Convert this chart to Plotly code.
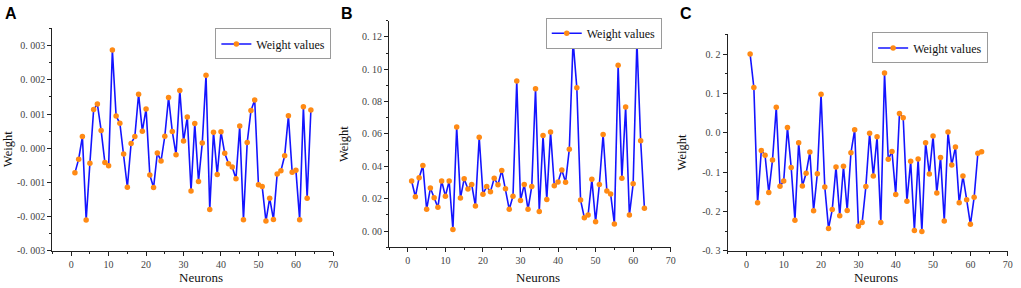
import plotly.graph_objects as go

# ---------------- data ----------------
neurons_a = list(range(1, 65))
weights_a = [-0.00072, -0.00032, 0.00034, -0.0021, -0.00044, 0.00113, 0.00129, 0.00052,
             -0.00042, -0.00051, 0.00287, 0.00094, 0.00073, -0.00017, -0.00114, 0.00014,
             0.00034, 0.00158, 0.0005, 0.00115, -0.00078, -0.00115, -0.00014, -0.00037,
             0.00035, 0.00148, 0.00049, -0.00019, 0.00169, 0.00021, 0.00091, -0.00125,
             0.00072, -0.00097, 0.00015, 0.00213, -0.00179, 0.00047, -0.00077, 0.00048,
             -0.00015, -0.00045, -0.00055, -0.00089, 0.00065, -0.00209, 0.00017, 0.0011,
             0.00141, -0.00107, -0.00112, -0.00213, -0.00146, -0.00208, -0.00075, -0.00066,
             -0.00022, 0.00095, -0.0007, -0.00064, -0.00209, 0.00121, -0.00146, 0.00112]

neurons_b = list(range(1, 64))
weights_b = [0.031, 0.0212, 0.033, 0.0405, 0.0135, 0.0266, 0.0206, 0.0147, 0.031, 0.0216,
             0.031, 0.001, 0.0643, 0.0204, 0.0323, 0.026, 0.0288, 0.0155, 0.058, 0.0228,
             0.0276, 0.0244, 0.0327, 0.0286, 0.0375, 0.0262, 0.0135, 0.0216, 0.0927, 0.019,
             0.0288, 0.0135, 0.0276, 0.0879, 0.0121, 0.059, 0.0196, 0.0613, 0.028, 0.0304,
             0.0377, 0.0302, 0.0506, 0.1175, 0.0885, 0.0192, 0.0083, 0.0099, 0.032, 0.0058,
             0.0288, 0.0597, 0.0248, 0.023, 0.0044, 0.1024, 0.0327, 0.0766, 0.0099, 0.0292,
             0.1171, 0.0558, 0.0141]

neurons_c = list(range(1, 64))
weights_c = [0.2, 0.115, -0.178, -0.045, -0.057, -0.152, -0.069, 0.065, -0.136, -0.1225,
             0.0133, -0.088, -0.2225, -0.025, -0.135, -0.103, -0.049, -0.198, -0.104, 0.098,
             -0.1375, -0.243, -0.195, -0.0867, -0.211, -0.085, -0.1975, -0.051, 0.0075, -0.2375,
             -0.228, -0.1367, -0.001, -0.11, -0.01, -0.228, 0.152, -0.0675, -0.0475, -0.157,
             0.049, 0.038, -0.174, -0.0725, -0.248, -0.0667, -0.251, -0.025, -0.105, -0.0083,
             -0.153, -0.063, -0.224, 0.0017, -0.082, -0.036, -0.178, -0.11, -0.17, -0.2325,
             -0.164, -0.052, -0.048]

x_ticks = [0, 10, 20, 30, 40, 50, 60, 70]
a_yticks = [-0.003, -0.002, -0.001, 0.0, 0.001, 0.002, 0.003]
a_yticktext = ["-0. 003", "-0. 002", "-0. 001", "0. 000", "0. 001", "0. 002", "0. 003"]
b_yticks = [0.0, 0.02, 0.04, 0.06, 0.08, 0.10, 0.12]
b_yticktext = ["0. 00", "0. 02", "0. 04", "0. 06", "0. 08", "0. 10", "0. 12"]
c_yticks = [-0.3, -0.2, -0.1, 0.0, 0.1, 0.2]
c_yticktext = ["-0. 3", "-0. 2", "-0. 1", "0. 0", "0. 1", "0. 2"]

series_name = "Weight values"
panel_labels = ["A", "B", "C"]

# ---------------- style ----------------
W, H = 1021, 288
LINE = "#1414FF"
MARK = "#FF8A14"
AX = "#222222"
SERIF = "Liberation Serif, Times New Roman, serif"


def px(x):
    return x / W


def py(y):
    return 1 - y / H


panels = [
    # x-left, x-right, y-top, y-bottom (pixels)
    dict(xs=(52.7, 335.0), ys=(29, 255.3), yr=[-0.003, 0.0035], yt=a_yticks, ytt=a_yticktext,
         ydt=0.0005, leg=(333, 29)),
    dict(xs=(391.0, 674.0), ys=(21, 251.7), yr=[-0.01, 0.13], yt=b_yticks, ytt=b_yticktext,
         ydt=0.01, leg=(665, 18)),
    dict(xs=(731.3, 1012.7), ys=(35, 255.3), yr=[-0.3, 0.25], yt=c_yticks, ytt=c_yticktext,
         ydt=0.05, leg=(993, 33)),
]
datasets = [(neurons_a, weights_a), (neurons_b, weights_b), (neurons_c, weights_c)]

fig = go.Figure()
annotations = []
layout = dict(
    width=W, height=H,
    margin=dict(l=0, r=0, t=0, b=0),
    paper_bgcolor="white", plot_bgcolor="white",
    showlegend=True,
)

for i, (p, (xs, ys)) in enumerate(zip(panels, datasets)):
    n = "" if i == 0 else str(i + 1)
    legname = "legend" if i == 0 else "legend" + str(i + 1)
    fig.add_trace(go.Scatter(
        x=xs, y=ys, mode="lines+markers", name=series_name,
        line=dict(color=LINE, width=1.6),
        marker=dict(color=MARK, size=5.5, line=dict(width=0)),
        xaxis="x" + n, yaxis="y" + n, legend=legname,
    ))
    layout["xaxis" + n] = dict(
        domain=[px(p["xs"][0]), px(p["xs"][1])], anchor="y" + n,
        range=[-5, 70], tickvals=x_ticks, showgrid=False, zeroline=False,
        showline=True, linecolor=AX, linewidth=1.2,
        ticks="outside", ticklen=4, tickcolor=AX, tickwidth=1,
        minor=dict(dtick=5, tick0=0, ticks="outside", ticklen=2, tickcolor=AX),
        tickfont=dict(family=SERIF, size=10, color="#444"),
    )
    layout["yaxis" + n] = dict(
        domain=[py(p["ys"][1]), py(p["ys"][0])], anchor="x" + n,
        range=p["yr"], tickvals=p["yt"], ticktext=p["ytt"],
        showgrid=False, zeroline=False,
        showline=True, linecolor=AX, linewidth=1.2,
        ticks="outside", ticklen=4, tickcolor=AX, tickwidth=1,
        minor=dict(dtick=p["ydt"], tick0=0, ticks="outside", ticklen=2, tickcolor=AX),
        tickfont=dict(family=SERIF, size=10, color="#444"),
    )
    layout[legname] = dict(
        x=px(p["leg"][0]), y=py(p["leg"][1]), xanchor="right", yanchor="top",
        bgcolor="white", bordercolor="#9a9a9a", borderwidth=1,
        font=dict(family=SERIF, size=12, color="#111"),
        itemwidth=30, tracegroupgap=0,
    )
    xmid = (p["xs"][0] + p["xs"][1]) / 2 + 8
    annotations.append(dict(
        text="Neurons", x=px(xmid), y=py(282), xref="paper", yref="paper",
        xanchor="center", yanchor="middle", showarrow=False,
        font=dict(family=SERIF, size=13, color="#111"),
    ))
    ymid = (p["ys"][0] + p["ys"][1]) / 2 + 10
    annotations.append(dict(
        text="Weight", x=px(p["xs"][0] - 45), y=py(ymid), xref="paper", yref="paper",
        xanchor="center", yanchor="middle", showarrow=False, textangle=-90,
        font=dict(family=SERIF, size=12.5, color="#111"),
    ))
    annotations.append(dict(
        text="<b>" + panel_labels[i] + "</b>",
        x=px(p["xs"][0] - 50), y=py(3), xref="paper", yref="paper",
        xanchor="left", yanchor="top", showarrow=False,
        font=dict(family="Liberation Sans, Arial, sans-serif", size=16, color="black"),
    ))

layout["annotations"] = annotations
fig.update_layout(**layout)
fig.write_html("out.html", config={"displayModeBar": False},
               post_script="document.body.style.margin='0';")
